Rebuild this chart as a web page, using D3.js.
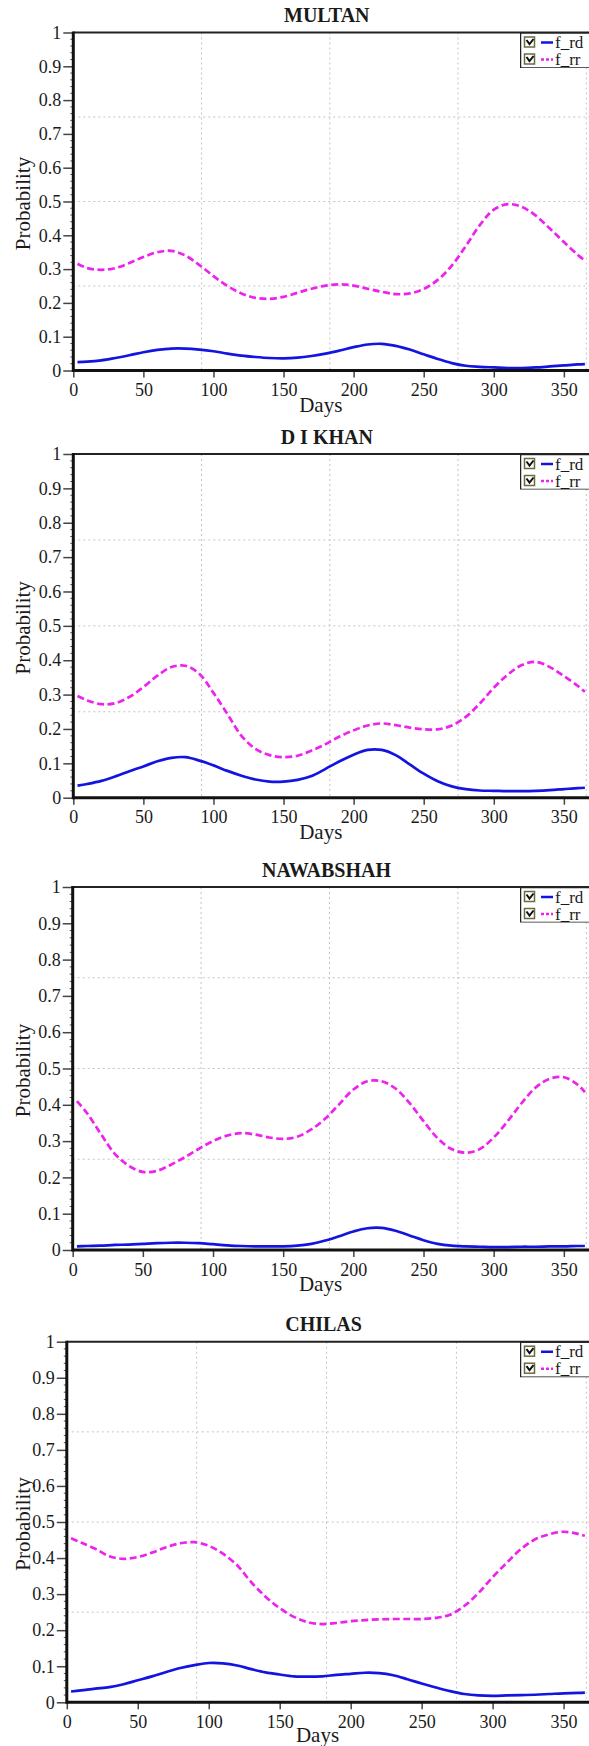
<!DOCTYPE html>
<html>
<head>
<meta charset="utf-8">
<script src="https://cdn.jsdelivr.net/npm/d3@7"></script>
<style>
  body { margin: 0; background: #fff; }
  svg { display: block; }
  text { font-family: "Liberation Serif", "Times New Roman", serif; fill: #1a1a1a; }
</style>
</head>
<body>
<svg id="chart" width="589" height="1746"></svg>
<script>
// ---- data ----
const days = [3,10,20,30,40,50,60,70,80,90,100,110,120,130,140,150,160,170,180,190,200,210,220,230,240,250,260,270,280,290,300,310,320,330,340,350,360,365];

const stations = ["MULTAN", "D I KHAN", "NAWABSHAH", "CHILAS"];
const seriesNames = ["f_rd", "f_rr"];
const yTicks = [0, 0.1, 0.2, 0.3, 0.4, 0.5, 0.6, 0.7, 0.8, 0.9, 1];
const xTicks = [0, 50, 100, 150, 200, 250, 300, 350];

const multanRd = [.025,.026,.030,.037,.045,.054,.061,.065,.065,.062,.057,.050,.044,.040,.037,.036,.038,.043,.050,.059,.069,.077,.079,.073,.062,.048,.034,.022,.014,.011,.009,.007,.007,.009,.012,.015,.018,.019];
const multanRr = [.316,.303,.298,.303,.318,.336,.350,.354,.340,.312,.279,.250,.228,.215,.212,.218,.230,.242,.251,.255,.251,.242,.233,.226,.228,.241,.268,.310,.368,.430,.476,.492,.484,.458,.420,.380,.342,.325];

const dikhanRd = [.035,.040,.049,.062,.077,.091,.106,.116,.118,.108,.094,.078,.064,.053,.047,.047,.052,.063,.084,.106,.125,.139,.139,.124,.097,.070,.048,.033,.025,.021,.020,.019,.019,.020,.022,.025,.028,.029];
const dikhanRr = [.296,.283,.272,.275,.293,.322,.355,.380,.384,.360,.305,.243,.180,.142,.124,.118,.122,.137,.156,.178,.196,.210,.216,.211,.204,.199,.199,.210,.235,.274,.320,.358,.386,.395,.380,.354,.325,.308];

const nawabshahRd = [.010,.011,.012,.014,.015,.017,.019,.020,.020,.019,.016,.013,.011,.010,.010,.010,.012,.017,.026,.038,.051,.060,.061,.053,.040,.027,.017,.012,.010,.009,.008,.008,.009,.009,.010,.010,.011,.011];
const nawabshahRr = [.410,.378,.320,.265,.232,.215,.218,.235,.256,.279,.300,.315,.322,.318,.310,.306,.312,.332,.362,.402,.442,.465,.465,.445,.405,.355,.308,.278,.268,.278,.310,.355,.405,.448,.472,.476,.455,.435];

const chilasRd = [.030,.033,.038,.042,.050,.061,.072,.084,.095,.103,.109,.108,.102,.092,.083,.077,.072,.071,.072,.076,.079,.082,.081,.075,.064,.052,.041,.031,.023,.019,.018,.019,.020,.021,.023,.025,.026,.027];
const chilasRr = [.455,.443,.426,.405,.398,.403,.415,.430,.441,.444,.434,.412,.380,.333,.293,.261,.237,.222,.217,.220,.225,.228,.230,.231,.231,.231,.234,.243,.267,.303,.347,.387,.425,.452,.466,.473,.467,.462];

const rdSeries = [multanRd, dikhanRd, nawabshahRd, chilasRd];
const rrSeries = [multanRr, dikhanRr, nawabshahRr, chilasRr];

// ---- layout of the four stacked panels ----
const layout = [
  { left: 73.3, top: 32.5,  bottom: 370.5 },
  { left: 73.3, top: 454,   bottom: 797.7 },
  { left: 72.7, top: 887,   bottom: 1250 },
  { left: 66.8, top: 1341.7, bottom: 1702.3 }
];
const plotRight = 586.3;
const W = 589;
const H = 1746;
const rdColor = "#1414e0";
const rrColor = "#ee22ee";
const serif = '"Liberation Serif", "Times New Roman", serif';

const svg = d3.select("#chart");

stations.forEach(function(name, i) {
  const L = layout[i];
  const g = svg.append("g");

  const x = d3.scaleLinear().domain([0, 366]).range([L.left, plotRight]);
  const y = d3.scaleLinear().domain([0, 1]).range([L.bottom, L.top]);

  // grid (dotted, quarters of the range)
  g.selectAll(".vgrid").data([91.5, 183, 274.5, 366]).enter().append("line")
    .attr("x1", d => x(d)).attr("x2", d => x(d))
    .attr("y1", L.top).attr("y2", L.bottom)
    .attr("stroke", "#c4c4c4").attr("stroke-width", 1).attr("stroke-dasharray", "2,3");
  g.selectAll(".hgrid").data([0.25, 0.5, 0.75]).enter().append("line")
    .attr("x1", L.left).attr("x2", W)
    .attr("y1", d => y(d)).attr("y2", d => y(d))
    .attr("stroke", "#c4c4c4").attr("stroke-width", 1).attr("stroke-dasharray", "2,3");

  // series
  const pts = k => days.map((d, j) => ({ x: d, y: k[j] }));
  const line = d3.line().x(d => x(d.x)).y(d => y(d.y)).curve(d3.curveCatmullRom);

  g.append("path").datum(pts(rrSeries[i]))
    .attr("d", line).attr("fill", "none")
    .attr("stroke", rrColor).attr("stroke-width", 2.7).attr("stroke-dasharray", "7,3.5");
  g.append("path").datum(pts(rdSeries[i]))
    .attr("d", line).attr("fill", "none")
    .attr("stroke", rdColor).attr("stroke-width", 2.7);

  // y axis
  const yAxis = d3.axisLeft(y).tickValues(yTicks).tickSize(10).tickPadding(2)
    .tickFormat(d => (d === 0 || d === 1) ? String(d) : d3.format(".1f")(d));
  const ya = g.append("g").attr("transform", "translate(" + L.left + ",0)").call(yAxis)
    .attr("font-family", serif);
  ya.select(".domain").remove();
  ya.selectAll(".tick line").attr("stroke", "#444").attr("stroke-width", 1.5);
  ya.selectAll(".tick text").style("font-size", "18px").style("font-family", serif).attr("fill", "#1a1a1a");

  // minor y ticks
  g.selectAll(".minor").data(d3.range(1, 50).filter(k => k % 5 !== 0).map(k => k / 50)).enter().append("line")
    .attr("x1", L.left - 3).attr("x2", L.left)
    .attr("y1", d => y(d)).attr("y2", d => y(d))
    .attr("stroke", "#555").attr("stroke-width", 1);

  // x axis
  const xAxis = d3.axisBottom(x).tickValues(xTicks).tickSize(7).tickPadding(6);
  const xa = g.append("g").attr("transform", "translate(0," + L.bottom + ")").call(xAxis)
    .attr("font-family", serif);
  xa.select(".domain").remove();
  xa.selectAll(".tick line").attr("stroke", "#444").attr("stroke-width", 1.5);
  xa.selectAll(".tick text").style("font-size", "18px").style("font-family", serif).attr("fill", "#1a1a1a");

  // frame
  g.append("line").attr("x1", L.left).attr("x2", W).attr("y1", L.top).attr("y2", L.top)
    .attr("stroke", "#222").attr("stroke-width", 2);
  g.append("line").attr("x1", L.left).attr("x2", L.left).attr("y1", L.top - 1).attr("y2", L.bottom + 1.5)
    .attr("stroke", "#111").attr("stroke-width", 3);
  g.append("line").attr("x1", L.left).attr("x2", W).attr("y1", L.bottom).attr("y2", L.bottom)
    .attr("stroke", "#111").attr("stroke-width", 3);

  // titles
  const cx = (L.left + plotRight) / 2 - 3;
  g.append("text").attr("x", cx).attr("y", L.top - 10.5)
    .attr("text-anchor", "middle").style("font-size", "20px").style("font-weight", "bold")
    .style("font-family", serif).text(name);
  g.append("text").attr("x", cx - 6).attr("y", Math.min(L.bottom + 41, H - 4))
    .attr("text-anchor", "middle").style("font-size", "21px").style("font-family", serif).text("Days");
  g.append("text")
    .attr("transform", "translate(30," + ((L.top + L.bottom) / 2 + 2) + ") rotate(-90)")
    .attr("text-anchor", "middle").style("font-size", "21px").style("font-family", serif).text("Probability");

  // legend
  const clipId = "lg" + i;
  g.append("clipPath").attr("id", clipId).append("rect")
    .attr("x", 520).attr("y", L.top).attr("width", 80).attr("height", 35.5);
  const lg = g.append("g").attr("clip-path", "url(#" + clipId + ")");
  lg.append("rect").attr("x", 520.5).attr("y", L.top + 0.5).attr("width", 80).attr("height", 35)
    .attr("fill", "#fff").attr("stroke", "#222").attr("stroke-width", 1.5);
  seriesNames.forEach(function(s, k) {
    const ry = L.top + 10 + k * 17;
    lg.append("rect").attr("x", 524.5).attr("y", ry - 5.5).attr("width", 10).attr("height", 10)
      .attr("fill", "#fff").attr("stroke", "#6a6a45").attr("stroke-width", 1.5);
    lg.append("path").attr("d", "M" + 526.5 + "," + (ry - 2.5) + " l3,4 l4,-5")
      .attr("fill", "none").attr("stroke", "#111").attr("stroke-width", 2);
    lg.append("line").attr("x1", 541).attr("x2", 553).attr("y1", ry).attr("y2", ry)
      .attr("stroke", k === 0 ? rdColor : rrColor).attr("stroke-width", 2.5)
      .attr("stroke-dasharray", k === 0 ? null : "3,2");
    lg.append("text").attr("x", 555).attr("y", ry + 5.5).style("font-size", "17px")
      .style("font-family", serif).text(s);
  });
});
</script>
</body>
</html>
